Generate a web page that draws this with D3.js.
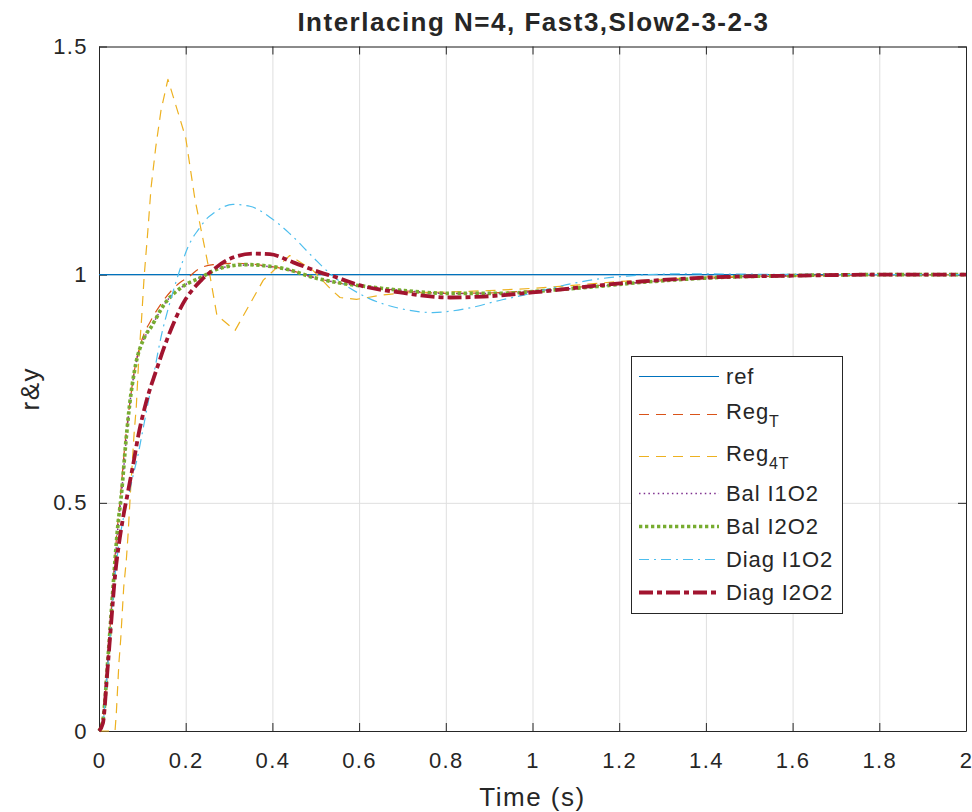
<!DOCTYPE html>
<html>
<head>
<meta charset="utf-8">
<script src="https://cdn.jsdelivr.net/npm/d3@7"></script>
<style>
  body { margin: 0; background: #fff; }
  text { font-family: "Liberation Sans", Arial, sans-serif; fill: #262626; }
</style>
</head>
<body>
<div id="chart"></div>
<script>
// --------- DATA ---------

const xTicks = [0, 0.2, 0.4, 0.6, 0.8, 1, 1.2, 1.4, 1.6, 1.8, 2];
const yTicks = [0, 0.5, 1, 1.5];

const refT = [0, 2];
const refY = [1, 1];

const regT_T = [0, 0.009, 0.02, 0.03, 0.04, 0.05, 0.06, 0.07, 0.08, 0.1, 0.12, 0.15, 0.187, 0.205, 0.233, 0.263, 0.318, 0.38, 0.44, 0.5, 0.55, 0.6, 0.7, 0.8, 0.9, 1.0, 1.1, 1.2, 1.4, 1.6, 2.0];
const regT_Y = [0, 0.02, 0.15, 0.29, 0.42, 0.52, 0.63, 0.71, 0.78, 0.86, 0.9, 0.945, 0.983, 0.994, 1.014, 1.022, 1.025, 1.02, 1.01, 0.993, 0.982, 0.975, 0.965, 0.959, 0.96, 0.965, 0.972, 0.98, 0.992, 0.997, 1.0];

const reg4T_T = [0, 0.037, 0.04, 0.046, 0.05, 0.057, 0.063, 0.067, 0.073, 0.081, 0.086, 0.092, 0.098, 0.104, 0.113, 0.12, 0.131, 0.143, 0.159, 0.2, 0.221, 0.251, 0.272, 0.314, 0.379, 0.44, 0.494, 0.537, 0.556, 0.594, 0.62, 0.65, 0.7, 0.8, 0.9, 1.0, 1.1, 1.2, 1.3, 1.4, 1.6, 2.0];
const reg4T_Y = [0, 0, 0.04, 0.15, 0.2, 0.315, 0.374, 0.43, 0.53, 0.652, 0.71, 0.82, 0.9, 0.994, 1.1, 1.19, 1.28, 1.36, 1.428, 1.3, 1.167, 1.025, 0.911, 0.878, 0.988, 1.042, 1.009, 0.966, 0.95, 0.946, 0.95, 0.955, 0.96, 0.962, 0.965, 0.97, 0.977, 0.985, 0.99, 0.995, 0.998, 1.0];

const balI1_T = [0, 0.009, 0.021, 0.032, 0.044, 0.051, 0.063, 0.071, 0.082, 0.105, 0.12, 0.152, 0.19, 0.235, 0.279, 0.34, 0.379, 0.433, 0.494, 0.548, 0.6, 0.694, 0.81, 0.925, 1.04, 1.148, 1.25, 1.41, 1.59, 1.8, 2.0];
const balI1_Y = [0, 0.024, 0.16, 0.305, 0.45, 0.51, 0.642, 0.716, 0.79, 0.862, 0.885, 0.937, 0.972, 0.995, 1.014, 1.021, 1.019, 1.011, 0.994, 0.983, 0.976, 0.966, 0.959, 0.959, 0.966, 0.974, 0.983, 0.993, 0.998, 1.0, 1.0];

const balI2_T = [0, 0.009, 0.021, 0.032, 0.044, 0.051, 0.063, 0.071, 0.082, 0.105, 0.12, 0.152, 0.19, 0.235, 0.279, 0.34, 0.379, 0.433, 0.494, 0.548, 0.6, 0.694, 0.81, 0.925, 1.04, 1.148, 1.25, 1.41, 1.59, 1.8, 2.0];
const balI2_Y = [0, 0.024, 0.163, 0.309, 0.455, 0.512, 0.644, 0.718, 0.79, 0.863, 0.885, 0.937, 0.972, 0.994, 1.014, 1.022, 1.02, 1.012, 0.994, 0.983, 0.976, 0.966, 0.959, 0.959, 0.966, 0.974, 0.983, 0.993, 0.998, 1.0, 1.0];

const diagI1_T = [0, 0.009, 0.019, 0.028, 0.037, 0.046, 0.056, 0.068, 0.08, 0.09, 0.098, 0.113, 0.128, 0.143, 0.163, 0.186, 0.205, 0.217, 0.228, 0.251, 0.263, 0.309, 0.348, 0.394, 0.44, 0.494, 0.525, 0.618, 0.694, 0.77, 0.849, 0.93, 0.964, 1.079, 1.148, 1.218, 1.35, 1.5, 2.0];
const diagI1_Y = [0, 0.017, 0.127, 0.236, 0.34, 0.41, 0.465, 0.515, 0.565, 0.605, 0.644, 0.718, 0.79, 0.863, 0.937, 1.009, 1.06, 1.082, 1.097, 1.125, 1.134, 1.154, 1.15, 1.126, 1.09, 1.038, 1.009, 0.95, 0.926, 0.917, 0.926, 0.945, 0.952, 0.978, 0.99, 0.997, 1.002, 1.001, 1.0];

const diagI2_T = [0, 0.009, 0.019, 0.028, 0.037, 0.046, 0.056, 0.068, 0.08, 0.09, 0.108, 0.132, 0.159, 0.194, 0.235, 0.256, 0.302, 0.356, 0.394, 0.448, 0.51, 0.548, 0.6, 0.694, 0.81, 0.886, 1.0, 1.148, 1.25, 1.41, 1.62, 1.8, 2.0];
const diagI2_Y = [0, 0.017, 0.127, 0.236, 0.34, 0.41, 0.47, 0.53, 0.59, 0.644, 0.718, 0.79, 0.863, 0.937, 0.987, 1.005, 1.035, 1.046, 1.045, 1.027, 1.005, 0.994, 0.977, 0.961, 0.95, 0.952, 0.961, 0.976, 0.985, 0.994, 0.998, 1.0, 1.0];

const seriesNames = ["ref", "Reg_T", "Reg_4T", "Bal I1O2", "Bal I2O2", "Diag I1O2", "Diag I2O2"];

// --------- GRAPHING ---------

const zip = (t, y) => t.map((v, i) => [v, y[i]]);

const series = [
    {name: seriesNames[0], data: zip(refT, refY), color: "#0072BD", width: 1.2, dash: null, curve: d3.curveLinear},
    {name: seriesNames[1], data: zip(regT_T, regT_Y), color: "#D95319", width: 1.2, dash: "10,7", curve: d3.curveMonotoneX},
    {name: seriesNames[2], data: zip(reg4T_T, reg4T_Y), color: "#EDB120", width: 1.2, dash: "10,7", curve: d3.curveLinear},
    {name: seriesNames[3], data: zip(balI1_T, balI1_Y), color: "#7E2F8E", width: 1.5, dash: "1.5,3.2", curve: d3.curveMonotoneX},
    {name: seriesNames[4], data: zip(balI2_T, balI2_Y), color: "#77AC30", width: 3.7, dash: "3.3,2.7", curve: d3.curveMonotoneX},
    {name: seriesNames[5], data: zip(diagI1_T, diagI1_Y), color: "#4DBEEE", width: 1.2, dash: "10,5,2,5", curve: d3.curveMonotoneX},
    {name: seriesNames[6], data: zip(diagI2_T, diagI2_Y), color: "#A2142F", width: 3.8, dash: "14,4,5,4", curve: d3.curveMonotoneX}
];

let margin = {top: 46.5, right: 6, bottom: 81, left: 99},
    width = 972 - margin.left - margin.right,
    height = 812 - margin.top - margin.bottom;

let svg = d3.select("#chart")
    .append("svg")
    .attr("width", 972)
    .attr("height", 812);

let graph = svg.append("g")
    .attr("transform", "translate(" + margin.left + "," + margin.top + ")");

let xScale = d3.scaleLinear().domain([0, 2]).range([0, width]);
let yScale = d3.scaleLinear().domain([0, 1.5]).range([height, 0]);

// Gridlines
graph.append("g")
    .attr("class", "gridlines")
    .call(d3.axisBottom(xScale).tickValues(xTicks).tickFormat("").tickSize(height).tickSizeOuter(0))
    .call(g => g.select(".domain").remove())
    .call(g => g.selectAll("line").attr("stroke", "#dfdfdf"));

graph.append("g")
    .attr("class", "gridlines")
    .call(d3.axisLeft(yScale).tickValues(yTicks).tickFormat("").tickSize(-width).tickSizeOuter(0))
    .call(g => g.select(".domain").remove())
    .call(g => g.selectAll("line").attr("stroke", "#dfdfdf"));

// Axes (ticks pointing inward, box on all sides)
function styleAxis(g) {
    g.select(".domain").attr("stroke", "#262626").attr("stroke-width", 1);
    g.selectAll(".tick line").attr("stroke", "#262626");
    g.selectAll("text").attr("font-size", 22).attr("fill", "#262626")
        .attr("letter-spacing", 1.4)
        .attr("font-family", "'Liberation Sans', Arial, sans-serif");
}

graph.append("g")
    .attr("transform", "translate(0," + height + ")")
    .call(d3.axisBottom(xScale).tickValues(xTicks).tickFormat(d3.format("")).tickSizeInner(-8).tickSizeOuter(0).tickPadding(21))
    .call(styleAxis);

graph.append("g")
    .call(d3.axisTop(xScale).tickValues(xTicks).tickFormat("").tickSizeInner(-8).tickSizeOuter(0))
    .call(styleAxis);

graph.append("g")
    .call(d3.axisLeft(yScale).tickValues(yTicks).tickFormat(d3.format("")).tickSizeInner(-8).tickSizeOuter(0).tickPadding(11))
    .call(styleAxis);

graph.append("g")
    .attr("transform", "translate(" + width + ",0)")
    .call(d3.axisRight(yScale).tickValues(yTicks).tickFormat("").tickSizeInner(-8).tickSizeOuter(0))
    .call(styleAxis);

// Lines
let line = d3.line()
    .x(d => xScale(d[0]))
    .y(d => yScale(d[1]));

series.forEach(s => {
    graph.append("path")
        .attr("fill", "none")
        .attr("stroke", s.color)
        .attr("stroke-width", s.width)
        .attr("stroke-dasharray", s.dash)
        .attr("stroke-linejoin", "round")
        .attr("d", line.curve(s.curve)(s.data));
});

// Title and axis labels
svg.append("text")
    .attr("x", margin.left + width / 2 + 1)
    .attr("y", 31)
    .attr("text-anchor", "middle")
    .attr("font-size", 26)
    .attr("font-weight", "bold")
    .attr("letter-spacing", 1.5)
    .attr("fill", "#000")
    .text("Interlacing N=4, Fast3,Slow2-3-2-3");

svg.append("text")
    .attr("x", margin.left + width / 2)
    .attr("y", 806)
    .attr("text-anchor", "middle")
    .attr("font-size", 26)
    .attr("letter-spacing", 1.5)
    .text("Time (s)");

svg.append("text")
    .attr("transform", "translate(39," + (margin.top + height / 2) + ") rotate(-90)")
    .attr("text-anchor", "middle")
    .attr("font-size", 26)
    .attr("letter-spacing", 1.5)
    .text("r&y");

// Legend
let legend = svg.append("g").attr("transform", "translate(631.5,356.5)");
let rowH = series.map(s => s.name.includes("_") ? 42 : 33);
let rowY = [];
let acc = 3.5;
rowH.forEach((h, i) => { rowY.push(Math.round(acc + h / 2)); acc += h; });

legend.append("rect")
    .attr("width", 211)
    .attr("height", Math.round(acc + 4.5))
    .attr("fill", "#fff")
    .attr("stroke", "#262626")
    .attr("stroke-width", 1);

series.forEach((s, i) => {
    legend.append("line")
        .attr("x1", 7.5).attr("x2", 87.5)
        .attr("y1", rowY[i]).attr("y2", rowY[i])
        .attr("stroke", s.color)
        .attr("stroke-width", s.width)
        .attr("stroke-dasharray", s.dash);

    let parts = s.name.split("_");
    let t = legend.append("text")
        .attr("x", 94.5)
        .attr("y", rowY[i] + 7.5 - (parts.length > 1 ? 3 : 0))
        .attr("font-size", 22)
        .attr("letter-spacing", 0.9);
    t.append("tspan").text(parts[0]);
    if (parts.length > 1) {
        t.append("tspan").attr("dy", 8).attr("font-size", 16).text(parts[1]);
    }
});
</script>
</body>
</html>
